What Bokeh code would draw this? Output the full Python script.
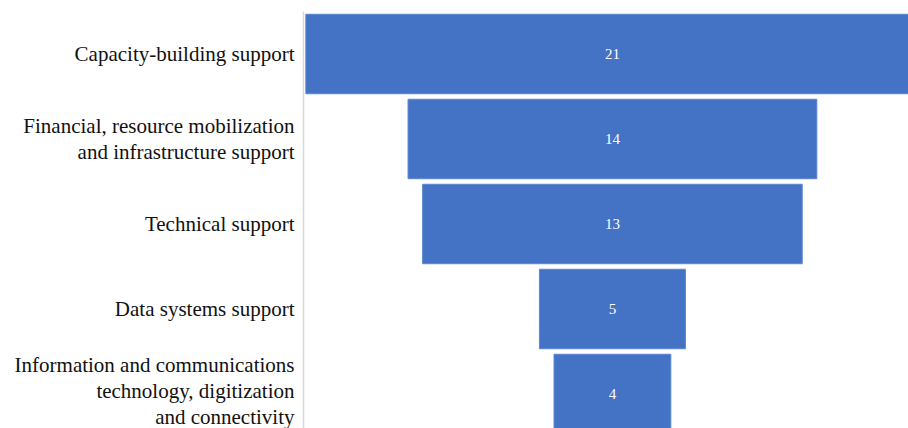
from bokeh.plotting import figure
from bokeh.models import Range1d, ColumnDataSource, FixedTicker
from bokeh.core.properties import value
from bokeh.embed import file_html
from bokeh.resources import INLINE

categories = [
    "Capacity-building support",
    "Financial, resource mobilization\nand infrastructure support",
    "Technical support",
    "Data systems support",
    "Information and communications\ntechnology, digitization\nand connectivity",
]
counts = [21, 14, 13, 5, 4]

pos = list(range(len(categories)))
src = ColumnDataSource(dict(
    y=pos,
    left=[-v / 2 for v in counts],
    right=[v / 2 for v in counts],
    x=[0] * len(counts),
    label=[str(v) for v in counts],
))

p = figure(width=908, height=428, output_backend="svg", toolbar_location=None,
           x_range=Range1d(-10.58, 10.14), y_range=Range1d(4.406, -0.5))
p.min_border_left = 303
p.min_border_right = 0
p.min_border_top = 11
p.min_border_bottom = 0
p.outline_line_color = None
p.xgrid.visible = False
p.ygrid.visible = False
p.xaxis.visible = False

p.hbar(y="y", left="left", right="right", height=0.935, source=src,
       fill_color="#4472C4", line_color="#5A86D2", line_width=1)
p.text(x="x", y="y", text="label", source=src, text_color="white",
       text_align="center", text_baseline="middle",
       text_font=value("Liberation Serif"), text_font_size="15px")

ax = p.yaxis[0]
ax.ticker = FixedTicker(ticks=pos)
ax.major_label_overrides = {i: c for i, c in zip(pos, categories)}
ax.major_tick_line_color = None
ax.minor_tick_line_color = None
ax.axis_line_color = "#D9D9D9"
ax.axis_line_width = 1.5
ax.major_label_standoff = 3
ax.major_label_text_font = "Liberation Serif"
ax.major_label_text_font_size = "21px"
ax.major_label_text_line_height = 1.07
ax.major_label_text_color = "#111111"

open("out.html", "w").write(file_html(p, INLINE))
